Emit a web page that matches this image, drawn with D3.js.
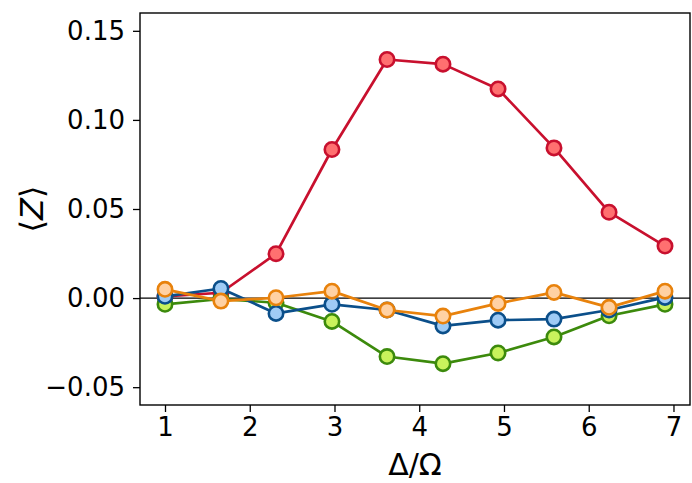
<!DOCTYPE html>
<html>
<head>
<meta charset="utf-8">
<script src="https://cdn.jsdelivr.net/npm/d3@7"></script>
<style>
  html, body { margin: 0; padding: 0; background: #fff; }
  svg { display: block; font-family: "DejaVu Sans", sans-serif; }
</style>
</head>
<body>
<svg id="chart" width="692" height="483"></svg>
<script>
// Data
const xValues = [1.00, 1.66, 2.31, 2.97, 3.62, 4.28, 4.93, 5.59, 6.24, 6.90];
const redValues    = [0.001, 0.003, 0.0249, 0.0834, 0.1339, 0.1313, 0.1174, 0.0843, 0.0482, 0.0292];
const greenValues  = [-0.0035, -0.0005, -0.0026, -0.0131, -0.0328, -0.0368, -0.0308, -0.0218, -0.0099, -0.0035];
const blueValues   = [0.0010, 0.0054, -0.0086, -0.0035, -0.0067, -0.0156, -0.0124, -0.0118, -0.0067, 0.0004];
const orangeValues = [0.0049, -0.0017, 0.0002, 0.0039, -0.0067, -0.0101, -0.0030, 0.0032, -0.0052, 0.0039];
const xTicks = [1, 2, 3, 4, 5, 6, 7];
const yTicks = [-0.05, 0.00, 0.05, 0.10, 0.15];
const seriesNames = ["red", "green", "blue", "orange"];
const seriesValues = [redValues, greenValues, blueValues, orangeValues];
const lineColors = ["#c8102e", "#3c8a0c", "#0b4f8a", "#e8820c"];
const fillColors = ["#ff7070", "#c9f25c", "#9fcbf5", "#ffd1a3"];

const svg = d3.select("#chart");
const L = 140, R = 690, T = 13, B = 405;
const x = d3.scaleLinear().domain([0.705, 7.195]).range([L, R]);
const y = d3.scaleLinear().domain([-0.06, 0.16]).range([B, T]);

// zero line
svg.append("line")
  .attr("x1", L).attr("x2", R)
  .attr("y1", y(0)).attr("y2", y(0))
  .attr("stroke", "#000").attr("stroke-width", 1.3);

const line = d3.line().x(d => x(d[0])).y(d => y(d[1]));

seriesValues.forEach((vals, i) => {
  const pts = xValues.map((xv, j) => [xv, vals[j]]);
  const g = svg.append("g").attr("class", "series-" + seriesNames[i]);
  g.append("path")
    .attr("d", line(pts))
    .attr("fill", "none")
    .attr("stroke", lineColors[i])
    .attr("stroke-width", 2.7)
    .attr("stroke-linejoin", "round");
  g.selectAll("circle").data(pts).join("circle")
    .attr("cx", d => x(d[0]))
    .attr("cy", d => y(d[1]))
    .attr("r", 7.2)
    .attr("fill", fillColors[i])
    .attr("stroke", lineColors[i])
    .attr("stroke-width", 2.6);
});

// Axes
const fmtY = d => d3.format(".2f")(d);
const xAxis = d3.axisBottom(x).tickValues(xTicks).tickFormat(d3.format("d")).tickSize(7).tickPadding(6);
const yAxis = d3.axisLeft(y).tickValues(yTicks).tickFormat(fmtY).tickSize(7).tickPadding(8);

const gx = svg.append("g").attr("transform", `translate(0,${B})`).call(xAxis);
const gy = svg.append("g").attr("transform", `translate(${L},0)`).call(yAxis);
[gx, gy].forEach(g => {
  g.select(".domain").remove();
  g.selectAll(".tick line").attr("stroke", "#000").attr("stroke-width", 1.3);
  g.selectAll(".tick text")
    .attr("fill", "#000")
    .style("font-family", "'DejaVu Sans', sans-serif")
    .style("font-size", "26px");
});

// frame
svg.append("rect")
  .attr("x", L).attr("y", T).attr("width", R - L).attr("height", B - T)
  .attr("fill", "none").attr("stroke", "#000").attr("stroke-width", 1.4);

// Axis labels
svg.append("text")
  .attr("x", (L + R) / 2).attr("y", 475)
  .attr("text-anchor", "middle")
  .style("font-size", "30px")
  .text("Δ/Ω");

const yl = svg.append("text")
  .attr("transform", `translate(43,${(T + B) / 2}) rotate(-90)`)
  .attr("text-anchor", "middle")
  .style("font-size", "32px");
yl.append("tspan").text("⟨");
yl.append("tspan").style("font-style", "italic").text("Z");
yl.append("tspan").text("⟩");
</script>
</body>
</html>
